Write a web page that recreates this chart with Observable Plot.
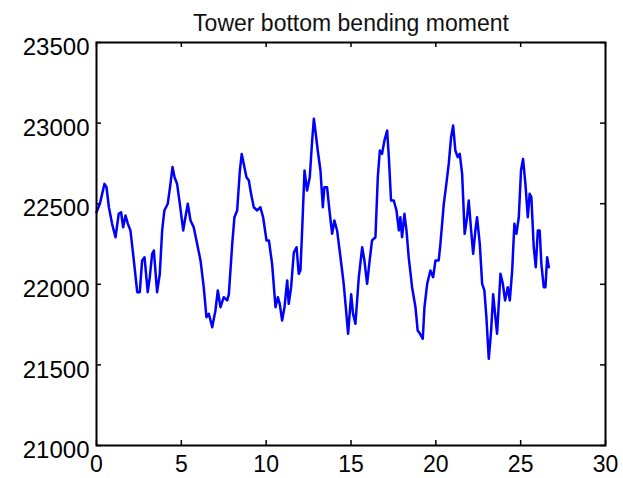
<!DOCTYPE html>
<html>
<head>
<meta charset="utf-8">
<script src="https://cdn.jsdelivr.net/npm/d3@7"></script>
<script src="https://cdn.jsdelivr.net/npm/@observablehq/plot@0.6"></script>
<style>
  html, body { margin: 0; padding: 0; background: #fff; }
  svg { font-family: "Liberation Sans", Arial, Helvetica, sans-serif; }
</style>
</head>
<body>
<div id="chart"></div>
<script>
const chartTitle = "Tower bottom bending moment";
const xTicks = [0, 5, 10, 15, 20, 25, 30];
const yTicks = [21000, 21500, 22000, 22500, 23000, 23500];
const timeS = [0,0.2,0.47,0.59,0.73,0.92,1.12,1.31,1.45,1.57,1.71,1.85,2.0,2.2,2.4,2.55,2.69,2.83,3.02,3.14,3.28,3.38,3.57,3.73,3.87,4.0,4.2,4.36,4.48,4.6,4.75,4.91,5.11,5.24,5.38,5.54,5.73,5.93,6.13,6.32,6.48,6.62,6.82,7.01,7.15,7.31,7.5,7.7,7.8,8.0,8.13,8.29,8.45,8.56,8.68,8.84,8.98,9.11,9.27,9.47,9.66,9.82,10.02,10.16,10.35,10.55,10.69,10.8,10.94,11.08,11.24,11.33,11.47,11.63,11.79,11.92,12.02,12.12,12.26,12.41,12.57,12.71,12.81,12.9,13.04,13.2,13.34,13.43,13.59,13.73,13.89,14.02,14.18,14.38,14.57,14.71,14.83,15.01,15.12,15.26,15.46,15.66,15.79,15.95,16.1,16.24,16.44,16.58,16.7,16.83,16.97,17.13,17.23,17.36,17.52,17.68,17.82,17.91,18.01,18.15,18.27,18.4,18.6,18.8,18.93,19.07,19.23,19.33,19.49,19.68,19.84,19.98,20.17,20.27,20.47,20.62,20.76,20.9,21.02,21.15,21.29,21.41,21.55,21.7,21.84,21.94,22.08,22.2,22.33,22.43,22.59,22.73,22.86,22.98,23.12,23.26,23.38,23.51,23.61,23.81,23.95,24.08,24.24,24.36,24.5,24.63,24.75,24.89,25.02,25.14,25.28,25.42,25.53,25.63,25.77,25.89,26.01,26.12,26.22,26.36,26.46,26.56,26.66];
const moment = [22447,22500,22623,22602,22478,22375,22292,22437,22447,22354,22427,22375,22334,22148,21951,21951,22148,22168,21951,22044,22189,22210,21951,22065,22334,22458,22500,22623,22727,22664,22623,22500,22334,22416,22500,22396,22354,22251,22148,21982,21796,21817,21734,21838,21962,21858,21920,21900,21938,22251,22416,22458,22706,22809,22747,22664,22644,22561,22478,22458,22478,22416,22272,22272,22127,21858,21920,21879,21775,21858,22024,21879,21982,22197,22230,22065,22086,22334,22706,22582,22664,22892,23027,22954,22830,22706,22478,22602,22602,22458,22313,22396,22334,22168,22003,21838,21693,21938,21817,21755,22044,22230,22148,22003,22148,22272,22292,22664,22830,22809,22892,22954,22789,22520,22520,22458,22334,22416,22292,22437,22334,22168,21982,21858,21713,21693,21662,21858,22003,22086,22044,22148,22148,22251,22499,22623,22747,22913,22985,22830,22789,22809,22685,22313,22416,22520,22334,22189,22334,22416,22251,22003,21962,21796,21538,21713,21938,21796,21693,22065,22003,21900,21982,21900,22086,22375,22313,22416,22706,22778,22623,22416,22561,22541,22230,22106,22334,22334,22127,21982,21982,22168,22106];

const series = timeS.map((t, i) => ({t, m: moment[i]}));
const W = 623, H = 478;
const mT = 42, mB = 33, mL = 96, mR = 18;
const innerH = H - mT - mB, innerW = W - mL - mR;
const tick = 5;

const chart = Plot.plot({
  width: W,
  height: H,
  marginTop: mT,
  marginBottom: mB,
  marginLeft: mL,
  marginRight: mR,
  style: {fontFamily: '"Liberation Sans", Arial, Helvetica, sans-serif', background: "#fff", overflow: "visible"},
  x: {domain: [0, 30]},
  y: {domain: [21000, 23500]},
  marks: [
    Plot.axisX({ticks: xTicks, tickSize: 0, tickPadding: 10, fontSize: 23, tickFormat: d => String(d), label: null, color: "#000"}),
    Plot.axisY({ticks: yTicks, tickSize: 0, tickPadding: 7, fontSize: 24, dy: 5, tickFormat: d => String(d), label: null, color: "#000"}),
    Plot.tickX(xTicks, {x: d => d, insetTop: innerH - tick, stroke: "#000", strokeWidth: 1.5}),
    Plot.tickX(xTicks, {x: d => d, insetBottom: innerH - tick, stroke: "#000", strokeWidth: 1.5}),
    Plot.tickY(yTicks, {y: d => d, insetRight: innerW - tick, stroke: "#000", strokeWidth: 1.5}),
    Plot.tickY(yTicks, {y: d => d, insetLeft: innerW - tick, stroke: "#000", strokeWidth: 1.5}),
    Plot.line(series, {x: "t", y: "m", stroke: "#0000ff", strokeWidth: 2.5, strokeLinejoin: "round"}),
    Plot.frame({stroke: "#000", strokeWidth: 2}),
    Plot.text([chartTitle], {text: d => d, frameAnchor: "top", textAnchor: "middle", lineAnchor: "bottom", dy: -12, fontSize: 23, fill: "#111"})
  ]
});
document.getElementById("chart").appendChild(chart);
</script>
</body>
</html>
